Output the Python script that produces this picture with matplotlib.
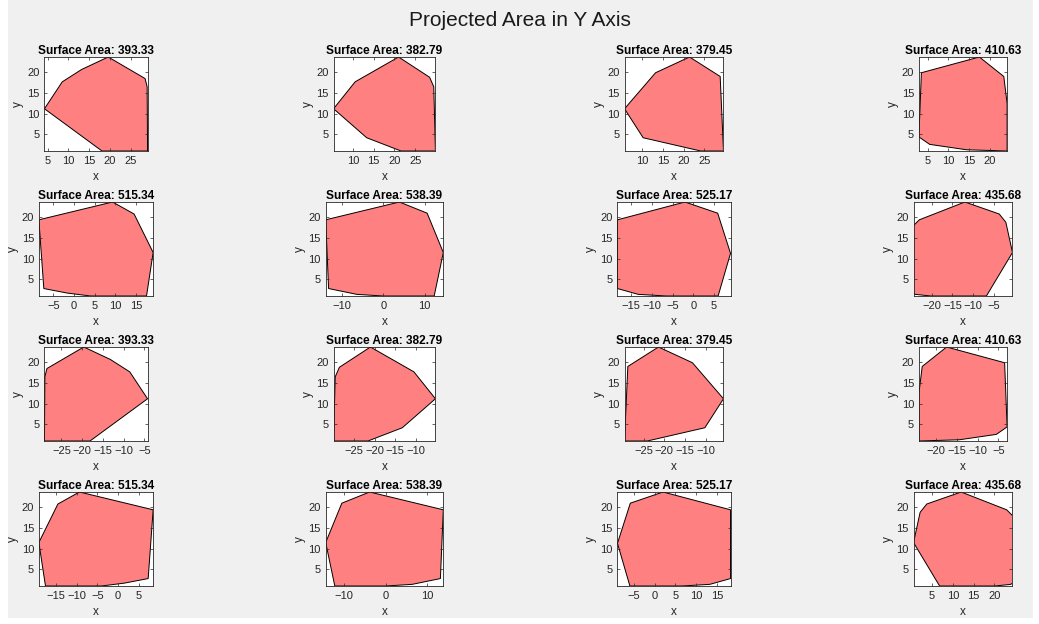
import matplotlib
matplotlib.use("Agg")
import matplotlib.pyplot as plt
from matplotlib.ticker import MultipleLocator
from matplotlib.patches import Rectangle

plt.rcParams['font.family'] = ['Liberation Sans', 'DejaVu Sans']

# Projected outlines (x, y) of each body, front views then mirrored back views
surface_areas = [393.33, 382.79, 379.45, 410.63,
                 515.34, 538.39, 525.17, 435.68,
                 393.33, 382.79, 379.45, 410.63,
                 515.34, 538.39, 525.17, 435.68]

poly_x_01 = [4.2, 8.5, 13.2, 19.6, 28.5, 29.0, 29.1, 18.1]
poly_y_01 = [11.2, 17.7, 20.7, 23.7, 18.5, 16.5, 1.0, 1.0]
poly_x_02 = [5.3, 10.5, 21.0, 28.5, 29.5, 29.9, 21.6, 13.3]
poly_y_02 = [11.2, 17.7, 23.7, 18.8, 16.5, 1.0, 1.0, 4.2]
poly_x_03 = [5.7, 13.2, 21.4, 28.8, 29.6, 24.1, 10.2]
poly_y_03 = [11.2, 19.9, 23.7, 19.0, 1.0, 1.0, 4.2]
poly_x_04 = [2.9, 3.5, 17.5, 23.4, 24.2, 24.2, 14.4, 5.5]
poly_y_04 = [4.4, 19.9, 23.7, 19.0, 12.5, 1.0, 1.3, 2.6]
poly_x_05 = [-8.5, 9.3, 14.5, 19.1, 17.5, 4.0, -1.6, -7.3]
poly_y_05 = [19.4, 23.7, 20.8, 11.5, 1.0, 1.0, 1.7, 2.8]
poly_x_06 = [-13.9, 3.9, 10.6, 14.5, 12.3, 0.0, -6.4, -13.2]
poly_y_06 = [19.4, 23.7, 21.0, 11.5, 1.0, 1.0, 1.4, 2.8]
poly_x_07 = [-18.3, -2.0, 5.9, 9.0, 6.0, -6.5, -13.3, -18.3]
poly_y_07 = [19.4, 23.7, 21.0, 11.3, 1.0, 1.0, 1.4, 2.8]
poly_x_08 = [-24.4, -23.0, -12.0, -3.7, -2.1, -0.5, -6.8, -20.2, -24.0, -24.4]
poly_y_08 = [18.0, 19.4, 23.7, 20.8, 18.8, 11.5, 1.0, 1.0, 1.4, 1.7]

poly_x_09 = [-4.2, -8.5, -13.2, -19.6, -28.5, -29.0, -29.1, -18.1]
poly_y_09 = [11.2, 17.7, 20.7, 23.7, 18.5, 16.5, 1.0, 1.0]
poly_x_10 = [-5.3, -10.5, -21.0, -28.5, -29.5, -29.9, -21.6, -13.3]
poly_y_10 = [11.2, 17.7, 23.7, 18.8, 16.5, 1.0, 1.0, 4.2]
poly_x_11 = [-5.7, -13.2, -21.4, -28.8, -29.6, -24.1, -10.2]
poly_y_11 = [11.2, 19.9, 23.7, 19.0, 1.0, 1.0, 4.2]
poly_x_12 = [-2.9, -3.5, -17.5, -23.4, -24.2, -24.2, -14.4, -5.5]
poly_y_12 = [4.4, 19.9, 23.7, 19.0, 12.5, 1.0, 1.3, 2.6]
poly_x_13 = [8.5, -9.3, -14.5, -19.1, -17.5, -4.0, 1.6, 7.3]
poly_y_13 = [19.4, 23.7, 20.8, 11.5, 1.0, 1.0, 1.7, 2.8]
poly_x_14 = [13.9, -3.9, -10.6, -14.5, -12.3, 0.0, 6.4, 13.2]
poly_y_14 = [19.4, 23.7, 21.0, 11.5, 1.0, 1.0, 1.4, 2.8]
poly_x_15 = [18.3, 2.0, -5.9, -9.0, -6.0, 6.5, 13.3, 18.3]
poly_y_15 = [19.4, 23.7, 21.0, 11.3, 1.0, 1.0, 1.4, 2.8]
poly_x_16 = [24.4, 23.0, 12.0, 3.7, 2.1, 0.5, 6.8, 20.2, 24.0, 24.4]
poly_y_16 = [18.0, 19.4, 23.7, 20.8, 18.8, 11.5, 1.0, 1.0, 1.4, 1.7]

polys_x = [poly_x_01, poly_x_02, poly_x_03, poly_x_04, poly_x_05, poly_x_06,
           poly_x_07, poly_x_08, poly_x_09, poly_x_10, poly_x_11, poly_x_12,
           poly_x_13, poly_x_14, poly_x_15, poly_x_16]
polys_y = [poly_y_01, poly_y_02, poly_y_03, poly_y_04, poly_y_05, poly_y_06,
           poly_y_07, poly_y_08, poly_y_09, poly_y_10, poly_y_11, poly_y_12,
           poly_y_13, poly_y_14, poly_y_15, poly_y_16]

x_tick_steps = [5, 5, 5, 5, 5, 10, 5, 5, 5, 5, 5, 5, 5, 10, 5, 5]
y_ticks = [5, 10, 15, 20]

W, H = 1039, 624
fig = plt.figure(figsize=(W / 100, H / 100), dpi=100)
fig.patch.set_facecolor('white')
fig.add_artist(Rectangle((8 / W, 6 / H), (1033 - 8) / W, 1 - 6 / H,
                         transform=fig.transFigure, facecolor='#f0f0f0',
                         edgecolor='none', zorder=-10))

fig.text(0.5, 1 - 20 / H, 'Projected Area in Y Axis', ha='center', va='center',
         fontsize=15, color='#1a1a1a')

col_centers = [96, 384.5, 674, 963]
row_centers = [104, 249, 394, 539]
box_w, box_h = 150, 94
ink = '#262626'

y_lo = min(min(v) for v in polys_y)
y_hi = max(max(v) for v in polys_y)

for i in range(16):
    r, c = divmod(i, 4)
    cx, cy = col_centers[c], row_centers[r]
    ax = fig.add_axes([(cx - box_w / 2) / W, 1 - (cy + box_h / 2) / H,
                       box_w / W, box_h / H])
    px, py = polys_x[i], polys_y[i]
    ax.fill(px, py, facecolor='#ff8080', edgecolor='black', linewidth=0.7)
    ax.set_xlim(min(px), max(px))
    ax.set_ylim(y_lo, y_hi)
    ax.set_aspect('equal', adjustable='box', anchor='C')
    ax.xaxis.set_major_locator(MultipleLocator(x_tick_steps[i]))
    ax.set_yticks(y_ticks)
    ax.tick_params(direction='in', top=True, right=True, length=2.5,
                   width=0.5, labelsize=8, colors=ink, pad=3.5)
    for s in ax.spines.values():
        s.set_color(ink)
        s.set_linewidth(0.6)
    ax.set_title(f'Surface Area: {surface_areas[i]:.2f}', fontsize=8.6,
                 fontweight='bold', color='black', pad=2.5)
    ax.set_xlabel('x', fontsize=8.5, color=ink, labelpad=3.5)
    ax.set_ylabel('y', fontsize=8.5, color=ink, labelpad=2)

fig.savefig('out.png', dpi=100, facecolor=fig.get_facecolor())
